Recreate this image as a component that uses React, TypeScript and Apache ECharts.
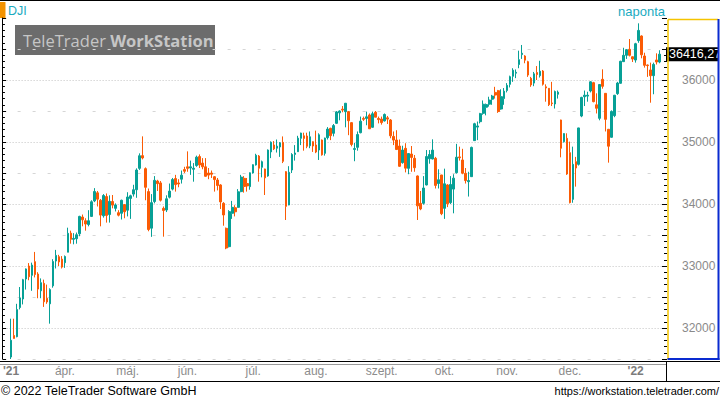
import React, { useEffect, useRef } from 'react';
import * as echarts from 'echarts';

const TEAL = '#07a096';
const ORANGE = '#fb5b05';
const FONT = '"Liberation Sans", Arial, sans-serif';

const monthKeys = ['2021-03', '2021-04', '2021-05', '2021-06', '2021-07', '2021-08', '2021-09', '2021-10', '2021-11', '2021-12', '2022-01'];
const monthLabels = ["'21", 'ápr.', 'máj.', 'jún.', 'júl.', 'aug.', 'szept.', 'okt.', 'nov.', 'dec.', "'22"];
const monthDays = [
  [8, 9, 10, 11, 12, 15, 16, 17, 18, 19, 22, 23, 24, 25, 26, 29, 30, 31],
  [1, 5, 6, 7, 8, 9, 12, 13, 14, 15, 16, 19, 20, 21, 22, 23, 26, 27, 28, 29, 30],
  [3, 4, 5, 6, 7, 10, 11, 12, 13, 14, 17, 18, 19, 20, 21, 24, 25, 26, 27, 28],
  [1, 2, 3, 4, 7, 8, 9, 10, 11, 14, 15, 16, 17, 18, 21, 22, 23, 24, 25, 28, 29, 30],
  [1, 2, 6, 7, 8, 9, 12, 13, 14, 15, 16, 19, 20, 21, 22, 23, 26, 27, 28, 29, 30],
  [2, 3, 4, 5, 6, 9, 10, 11, 12, 13, 16, 17, 18, 19, 20, 23, 24, 25, 26, 27, 30, 31],
  [1, 2, 3, 7, 8, 9, 10, 13, 14, 15, 16, 17, 20, 21, 22, 23, 24, 27, 28, 29, 30],
  [1, 4, 5, 6, 7, 8, 11, 12, 13, 14, 15, 18, 19, 20, 21, 22, 25, 26, 27, 28, 29],
  [1, 2, 3, 4, 5, 8, 9, 10, 11, 12, 15, 16, 17, 18, 19, 22, 23, 24, 26, 29, 30],
  [1, 2, 3, 6, 7, 8, 9, 10, 13, 14, 15, 16, 17, 20, 21, 22, 23, 27, 28, 29, 30, 31],
  [3, 4, 5, 6, 7, 10, 11, 12, 13],
];

const opens = [
  31532, 31880, 31860, 32330, 32468, 32790, 33000, 32850, 33070, 32870,
  32600, 32720, 32480, 32390, 32680, 33080, 33150, 33110, 33054, 33222,
  33530, 33430, 33440, 33520, 33790, 33730, 33670, 33800, 34050, 34180,
  34060, 33810, 34120, 33830, 34040, 33930, 33860, 33850, 33990, 33900,
  34090, 34160, 34230, 34575, 34780, 34570, 34200, 33610, 34040, 34370,
  34340, 33930, 33903, 34110, 34240, 34410, 34340, 34400, 34555, 34600,
  34580, 34560, 34620, 34765, 34660, 34600, 34500, 34500, 34440, 34387,
  34307, 34011, 33608, 33312, 33850, 33940, 33946, 34200, 34414, 34330,
  34280, 34500, 34630, 34774, 34592, 34565, 34452, 34840, 34952, 34900,
  34920, 34994, 34522, 33984, 34548, 34800, 34844, 35059, 35100, 35097,
  34940, 35005, 34952, 34871, 35032, 34817, 35070, 35221, 35140, 35301,
  35470, 35530, 35489, 35489, 35312, 34880, 34914, 35150, 35380, 35380,
  35436, 35237, 35480, 35380, 35370, 35340, 35390, 35355, 35090, 35032,
  34935, 34667, 34898, 34575, 34806, 34737, 34452, 34011, 34011, 34307,
  34730, 34726, 34737, 34330, 34468, 33930, 34307, 34022, 34240, 34505,
  34760, 34710, 34495, 34360, 34441, 35022, 35240, 35328, 35462, 35560,
  35610, 35690, 35800, 35828, 35532, 35700, 35830, 35930, 36060, 36110,
  36250, 36410, 36387, 36296, 36027, 35950, 36120, 36070, 36145, 35890,
  35866, 35630, 35613, 35770, 35355, 35006, 35059, 34828, 34075, 34683,
  34640, 35419, 35730, 35740, 35823, 35957, 35600, 35382, 36011, 35785,
  35205, 35076, 35425, 35780, 35947, 36296, 36398, 36495, 36375, 36322,
  36635, 36710, 36387, 36242, 36162, 36070, 36323, 36290,
];

const closes = [
  31802, 31832, 32297, 32485, 32779, 32953, 32826, 33015, 32862, 32628,
  32731, 32423, 32420, 32619, 33072, 33171, 33066, 32982, 33153, 33527,
  33430, 33446, 33504, 33800, 33745, 33677, 33730, 34036, 34201, 34078,
  33821, 34137, 33816, 34043, 33982, 33985, 33820, 34060, 33875, 34113,
  34133, 34230, 34548, 34778, 34743, 34269, 33588, 34022, 34382, 34328,
  34061, 33896, 34084, 34208, 34394, 34313, 34323, 34465, 34529, 34575,
  34600, 34577, 34756, 34630, 34600, 34447, 34466, 34480, 34394, 34299,
  34034, 33823, 33290, 33877, 33946, 33874, 34197, 34434, 34283, 34292,
  34503, 34634, 34786, 34577, 34682, 34422, 34870, 34996, 34889, 34933,
  34987, 34688, 33962, 34512, 34798, 34823, 35062, 35144, 35058, 34931,
  35084, 34935, 34838, 35116, 34793, 35064, 35208, 35102, 35265, 35485,
  35500, 35515, 35625, 35343, 34961, 34894, 35120, 35336, 35366, 35406,
  35213, 35456, 35400, 35361, 35313, 35444, 35369, 35100, 35031, 34879,
  34608, 34870, 34578, 34814, 34751, 34585, 33970, 33920, 34258, 34765,
  34798, 34869, 34300, 34391, 33844, 34326, 34003, 34315, 34417, 34755,
  34746, 34496, 34378, 34378, 34913, 35295, 35259, 35457, 35609, 35603,
  35677, 35741, 35757, 35491, 35731, 35820, 35914, 36053, 36158, 36124,
  36328, 36432, 36320, 36080, 35921, 36100, 36087, 36142, 35931, 35871,
  35602, 35619, 35814, 35804, 34899, 35136, 34484, 34022, 34640, 34580,
  35227, 35719, 35755, 35755, 35971, 35651, 35544, 35927, 35898, 35365,
  34932, 35493, 35754, 35951, 36302, 36398, 36489, 36398, 36338, 36585,
  36800, 36407, 36237, 36232, 36069, 36252, 36290, 36416.27,
];

const highs = [
  32150, 32150, 32390, 32661, 32793, 32960, 33047, 33054, 33227, 32900,
  32800, 32780, 32700, 32640, 33110, 33260, 33180, 33160, 33170, 33618,
  33570, 33530, 33540, 33810, 33830, 33770, 33900, 34060, 34256, 34210,
  34080, 34160, 34170, 34140, 34145, 34010, 33900, 34070, 34000, 34190,
  34150, 34310, 34575, 34817, 35091, 34590, 34250, 34160, 34450, 34390,
  34370, 33960, 34140, 34330, 34420, 34470, 34400, 34540, 34600, 34849,
  34700, 34660, 34780, 34800, 34740, 34740, 34580, 34540, 34450, 34420,
  34320, 34030, 33620, 33900, 34050, 33980, 34240, 34470, 34450, 34420,
  34510, 34640, 34810, 34790, 34700, 34570, 34880, 35010, 35015, 35040,
  35000, 35090, 34530, 34610, 34820, 34950, 35100, 35150, 35150, 35150,
  35170, 35010, 35183, 35140, 35040, 35070, 35240, 35230, 35290, 35500,
  35510, 35580, 35630, 35500, 35320, 34985, 35170, 35410, 35410, 35490,
  35460, 35490, 35500, 35410, 35410, 35460, 35420, 35370, 35170, 35190,
  35040, 34940, 34980, 34820, 34935, 34790, 34460, 34210, 34450, 34870,
  34870, 35043, 34760, 34560, 34470, 34570, 34320, 34450, 34480, 34970,
  34925, 34890, 34580, 34520, 34925, 35310, 35330, 35470, 35670, 35620,
  35730, 35760, 35890, 35840, 35850, 35870, 35950, 36070, 36190, 36170,
  36473, 36565, 36400, 36310, 36050, 36130, 36225, 36310, 36160, 35930,
  35870, 35970, 35830, 35830, 35360, 35140, 35140, 35006, 34925, 34760,
  35230, 35730, 35830, 35810, 35980, 35970, 35785, 35935, 36172, 35790,
  35210, 35510, 35760, 35970, 36310, 36520, 36500, 36661, 36380, 36600,
  36914, 36720, 36440, 36250, 36280, 36280, 36430, 36480,
];

const lows = [
  31500, 31830, 31850, 32300, 32380, 32620, 32770, 32600, 32816, 32480,
  32480, 32340, 32390, 32070, 32650, 32960, 33000, 32960, 32970, 33222,
  33360, 33350, 33360, 33480, 33640, 33570, 33640, 33790, 34030, 33960,
  33640, 33780, 33700, 33700, 33930, 33880, 33800, 33750, 33770, 33800,
  33760, 34120, 34100, 34550, 34720, 34060, 33560, 33470, 34010, 34210,
  34040, 33473, 33870, 34090, 34220, 34200, 34270, 34330, 34500, 34520,
  34470, 34360, 34600, 34580, 34560, 34440, 34400, 34420, 34200, 34220,
  33920, 33650, 33271, 33300, 33760, 33800, 33940, 34190, 34183, 34200,
  34230, 34490, 34620, 34360, 34430, 34145, 34440, 34740, 34870, 34830,
  34760, 34660, 33742, 33980, 34500, 34700, 34840, 34950, 34860, 34900,
  34900, 34840, 34820, 34710, 34780, 34780, 35040, 35030, 35090, 35290,
  35350, 35480, 35237, 35110, 34930, 34690, 34860, 35140, 35340, 35270,
  35210, 35230, 35400, 35300, 35280, 35330, 35290, 35060, 34950, 34870,
  34600, 34650, 34510, 34480, 34520, 34520, 33742, 33900, 33990, 34300,
  34650, 34720, 34250, 34250, 33820, 33760, 33950, 34000, 33850, 34490,
  34700, 34480, 34330, 34120, 34440, 35020, 35030, 35300, 35440, 35430,
  35570, 35600, 35700, 35470, 35520, 35600, 35800, 35880, 35970, 36030,
  36190, 36340, 36270, 36050, 35890, 35900, 36000, 36040, 35910, 35650,
  35580, 35580, 35540, 35700, 34753, 34990, 34470, 34010, 34020, 34280,
  34620, 35400, 35580, 35650, 35800, 35640, 35460, 35350, 35860, 35170,
  34667, 35070, 35400, 35760, 35940, 36290, 36340, 36380, 36290, 36280,
  36600, 36350, 36200, 36050, 35634, 35770, 36250, 36270,
];

const Y_MIN = 31500;
const Y_MAX = 37000;
const Y_STEP = 500;

export default function App() {
  const ref = useRef<HTMLDivElement>(null);

  useEffect(() => {
    const el = ref.current;
    if (!el) return;
    const chart = echarts.init(el, undefined, { renderer: 'svg' });

    const LEAD = 2;
    const categories: string[] = ['p0', 'p1'];
    const labelMap: Record<string, string> = {};
    monthKeys.forEach((mk, m) => {
      monthDays[m].forEach((d, j) => {
        const key = mk + '-' + String(d).padStart(2, '0');
        categories.push(key);
        if (j === 0) labelMap[key] = monthLabels[m];
      });
    });
    categories.push('p2', 'p3');

    const candles = closes.map((c, i) => [i + LEAD, opens[i], c, lows[i], highs[i]]);

    chart.setOption({
      animation: false,
      grid: { left: 1, top: 18, width: 666, height: 341, containLabel: false },
      xAxis: {
        type: 'category',
        data: categories,
        boundaryGap: true,
        axisLine: { show: false },
        axisTick: { show: false },
        splitLine: { show: false },
        axisLabel: {
          show: true,
          interval: (_idx: number, val: string) => !!labelMap[val],
          formatter: (val: string) => {
            const t = labelMap[val] || '';
            return t.startsWith("'") ? '{y|' + t + '}' : t;
          },
          color: '#8c8c8c',
          fontSize: 12,
          fontFamily: FONT,
          margin: 6,
          rich: { y: { fontWeight: 'bold', color: '#7c7c7c', fontSize: 12, fontFamily: FONT } },
        },
      },
      yAxis: [
        {
          type: 'value', position: 'right', min: Y_MIN, max: Y_MAX, interval: Y_STEP,
          axisLine: { show: false },
          axisTick: { show: true, inside: true, length: 5, lineStyle: { color: '#000' } },
          minorTick: { show: true, splitNumber: 5, length: 3, lineStyle: { color: '#000' } },
          axisLabel: {
            formatter: (v: number) => (v % 1000 === 0 && v > Y_MIN && v < Y_MAX ? String(v) : ''),
            color: '#8a8a8a', fontSize: 12, fontFamily: FONT, margin: 15,
          },
          splitLine: {
            show: true, showMinLine: true, showMaxLine: false,
            lineStyle: { color: ['rgba(0,0,0,0)', '#c4c4c4'], type: [1, 2], width: 1 },
          },
        },
        {
          type: 'value', position: 'right', min: Y_MIN, max: Y_MAX, interval: Y_STEP,
          axisLine: { show: false }, axisTick: { show: false }, axisLabel: { show: false },
          splitLine: {
            show: true, showMinLine: true, showMaxLine: false,
            lineStyle: { color: ['#d6d6d6', 'rgba(0,0,0,0)'], type: [3, 12], dashOffset: 1, width: 1 },
          },
        },
        {
          type: 'value', position: 'left', offset: 1, min: Y_MIN, max: Y_MAX, interval: Y_STEP,
          axisLine: { show: true, lineStyle: { color: '#000', width: 1 } },
          axisTick: { show: true, inside: true, length: 3.5, lineStyle: { color: '#000' } },
          minorTick: { show: true, splitNumber: 5, length: 2.3, lineStyle: { color: '#000' } },
          axisLabel: { show: false },
          splitLine: { show: false },
        },
      ],
      series: [
        {
          type: 'candlestick',
          xAxisIndex: 0,
          yAxisIndex: 0,
          data: candles,
          encode: { x: 0, y: [1, 2, 3, 4] },
          barWidth: 2.2,
          itemStyle: { color: TEAL, color0: ORANGE, borderColor: TEAL, borderColor0: ORANGE, borderWidth: 1 },
        },
      ],
    });

    const last = closes[closes.length - 1];
    const py = chart.convertToPixel({ yAxisIndex: 0 }, last) as number;
    const priceText = last.toFixed(2).replace('.', ',');

    chart.setOption({
      graphic: {
        elements: [
          { type: 'rect', z: -10, shape: { x: 15, y: 25, width: 200, height: 30 }, style: { fill: '#6c6c6c' } },
          {
            type: 'text', z: -9, x: 23, y: 40,
            style: {
              text: '{a|TeleTrader }{b|WorkStation}',
              verticalAlign: 'middle', align: 'left',
              rich: {
                a: { fill: '#c6c6c6', fontSize: 16.5, fontFamily: '"Open Sans", sans-serif' },
                b: { fill: '#c6c6c6', fontSize: 16.5, fontWeight: 'bold', fontFamily: '"Open Sans", sans-serif' },
              },
            },
          },
          { type: 'rect', shape: { x: 0, y: 0, width: 720, height: 1 }, style: { fill: '#000' } },
          { type: 'rect', shape: { x: 0, y: 2, width: 5.5, height: 16 }, style: { fill: '#f39200' } },
          { type: 'text', x: 8, y: 11, style: { text: 'DJI', fill: '#1aaabf', fontSize: 12.5, fontFamily: FONT, verticalAlign: 'middle', align: 'left' } },
          { type: 'text', x: 641.5, y: 11, style: { text: 'naponta', fill: '#1aaabf', fontSize: 13, fontFamily: FONT, verticalAlign: 'middle', align: 'center' } },
          { type: 'rect', z: 5, shape: { x: 666, y: py - 7, width: 52, height: 14 }, style: { fill: '#000' } },
          { type: 'text', z: 6, x: 669, y: py, style: { text: priceText, fill: '#fff', fontSize: 12.5, fontFamily: FONT, verticalAlign: 'middle', align: 'left' } },
          { type: 'line', z: 10, shape: { x1: 668, y1: 19.5, x2: 668, y2: 359 }, style: { stroke: '#f5c400', lineWidth: 1.5 } },
          { type: 'line', z: 10, shape: { x1: 668, y1: 19.5, x2: 718, y2: 19.5 }, style: { stroke: '#f5c400', lineWidth: 1.5 } },
          { type: 'line', z: 11, shape: { x1: 718.5, y1: 19, x2: 718.5, y2: 360 }, style: { stroke: '#0a2bd0', lineWidth: 2 } },
          { type: 'line', z: 11, shape: { x1: 667.5, y1: 359, x2: 719.5, y2: 359 }, style: { stroke: '#0a2bd0', lineWidth: 2 } },
          { type: 'line', shape: { x1: 0, y1: 361.5, x2: 720, y2: 361.5 }, style: { stroke: '#000', lineWidth: 1 } },
          { type: 'line', shape: { x1: 0, y1: 364.5, x2: 666, y2: 364.5 }, style: { stroke: '#9a9a9a', lineWidth: 1 } },
          { type: 'line', shape: { x1: 666.5, y1: 361, x2: 666.5, y2: 381 }, style: { stroke: '#000', lineWidth: 1 } },
          { type: 'line', shape: { x1: 0, y1: 381.5, x2: 720, y2: 381.5 }, style: { stroke: '#000', lineWidth: 1 } },
          { type: 'text', x: 1, y: 391, style: { text: '© 2022 TeleTrader Software GmbH', fill: '#000', fontSize: 12.5, fontFamily: FONT, verticalAlign: 'middle', align: 'left' } },
          { type: 'text', x: 719, y: 391, style: { text: 'https://workstation.teletrader.com/', fill: '#000', fontSize: 11, fontFamily: FONT, verticalAlign: 'middle', align: 'right' } },
        ],
      },
    });

    return () => {
      chart.dispose();
    };
  }, []);

  return (
    <div
      ref={ref}
      style={{ position: 'fixed', left: 0, top: 0, width: 720, height: 399, background: '#fff' }}
    />
  );
}
